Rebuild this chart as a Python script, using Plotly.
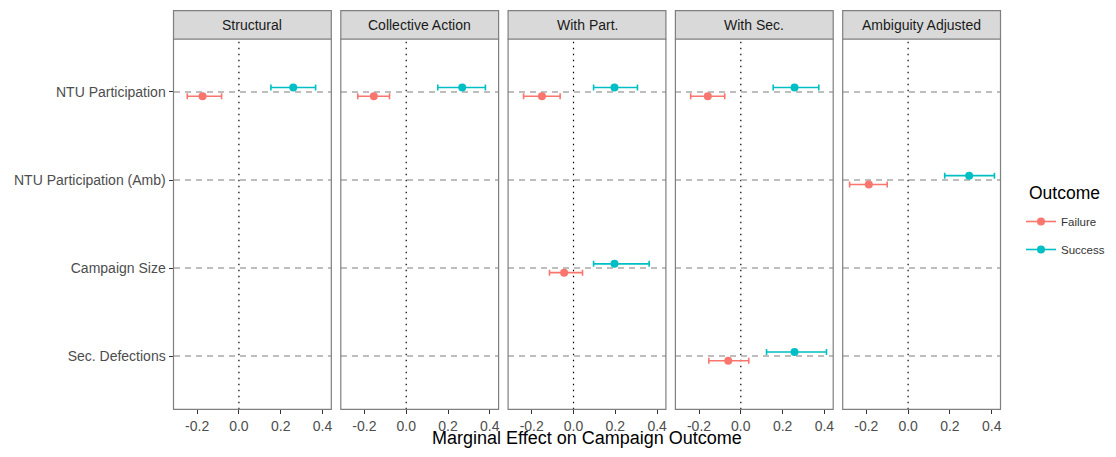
import plotly.graph_objects as go

# ---------------- data ----------------
categories = ["NTU Participation", "NTU Participation (Amb)", "Campaign Size", "Sec. Defections"]
panels = ["Structural", "Collective Action", "With Part.", "With Sec.", "Ambiguity Adjusted"]

row_panel = ["Structural", "Collective Action", "With Part.", "With Part.",
             "With Sec.", "With Sec.", "Ambiguity Adjusted"]
row_var = ["NTU Participation", "NTU Participation", "NTU Participation", "Campaign Size",
           "NTU Participation", "Sec. Defections", "NTU Participation (Amb)"]

fail_est = [-0.174, -0.155, -0.151, -0.045, -0.158, -0.060, -0.188]
fail_lo = [-0.247, -0.232, -0.239, -0.115, -0.240, -0.153, -0.280]
fail_hi = [-0.083, -0.080, -0.064, 0.043, -0.077, 0.038, -0.100]

succ_est = [0.260, 0.268, 0.196, 0.196, 0.257, 0.257, 0.292]
succ_lo = [0.153, 0.151, 0.096, 0.096, 0.155, 0.123, 0.175]
succ_hi = [0.367, 0.379, 0.306, 0.362, 0.373, 0.410, 0.413]

x_tickvals = [-0.2, 0.0, 0.2, 0.4]
x_ticktext = ["-0.2", "0.0", "0.2", "0.4"]

outcomes = ["Failure", "Success"]
colors = {"Failure": "#F8766D", "Success": "#00BFC4"}
dodge = {"Failure": 0.05, "Success": -0.05}

# ---------------- layout geometry (reference page pixels) ----------------
OFF = 8  # default page body margin
W, H = 1116 - 2 * OFF, 457 - 2 * OFF
FONT = "Liberation Sans, Arial, Helvetica, sans-serif"
panel_left = 173.5
panel_w = 157.8
gap = 9.5
plot_top, plot_bot = 39.0, 409.3
strip_top = 10.7
xr = [-0.313, 0.442]
yr = [3.6, -0.6]

def px(p):
    return (p - OFF) / W

def py(p):
    return (H - (p - OFF)) / H

fig = go.Figure()
layout = dict(
    width=W, height=H,
    margin=dict(l=0, r=0, t=0, b=0, autoexpand=False),
    paper_bgcolor="white", plot_bgcolor="white",
    font=dict(family=FONT, color="#4D4D4D"),
    shapes=[], annotations=[],
)

series = {
    "Failure": (fail_est, fail_lo, fail_hi),
    "Success": (succ_est, succ_lo, succ_hi),
}

for i, pname in enumerate(panels):
    k = "" if i == 0 else str(i + 1)
    left = panel_left + i * (panel_w + gap)
    right = left + panel_w
    layout["xaxis" + k] = dict(
        domain=[px(left), px(right)], anchor="y" + k, range=xr,
        tickvals=x_tickvals, ticktext=x_ticktext, ticks="outside", ticklen=4,
        tickcolor="#333333", tickwidth=1.2,
        tickfont=dict(size=14, color="#4D4D4D", family=FONT),
        showgrid=False, zeroline=False, showline=False,
    )
    layout["yaxis" + k] = dict(
        domain=[py(plot_bot), py(plot_top)], anchor="x" + k, range=yr,
        tickvals=list(range(len(categories))), ticktext=categories,
        showticklabels=(i == 0), ticks="outside" if i == 0 else "", ticklen=4,
        tickcolor="#333333", tickwidth=1.2,
        tickfont=dict(size=14, color="#4D4D4D", family=FONT),
        showgrid=True, gridcolor="#BEBEBE", gridwidth=1.6, griddash="6px,5px",
        zeroline=False, showline=False,
    )
    xref = "x" + k
    yref = "y" + k
    # zero reference line
    layout["shapes"].append(dict(
        type="line", xref=xref, yref=yref + " domain", x0=0, x1=0, y0=0, y1=1,
        line=dict(color="black", width=1.2, dash="1.5px,4.5px"), layer="below"))
    # panel border
    layout["shapes"].append(dict(
        type="rect", xref=xref + " domain", yref=yref + " domain", x0=0, x1=1, y0=0, y1=1,
        line=dict(color="#7F7F7F", width=1.2), layer="above"))
    # strip
    layout["shapes"].append(dict(
        type="rect", xref=xref + " domain", yref="paper", x0=0, x1=1,
        y0=py(plot_top), y1=py(strip_top),
        fillcolor="#D9D9D9", line=dict(color="#7F7F7F", width=1.2)))
    layout["annotations"].append(dict(
        text=pname, xref=xref + " domain", yref="paper", x=0.5,
        y=py((plot_top + strip_top) / 2), showarrow=False,
        xanchor="center", yanchor="middle",
        font=dict(size=14, color="#1A1A1A", family=FONT)))

    for oc in outcomes:
        est, lo, hi = series[oc]
        idx = [j for j, p in enumerate(row_panel) if p == pname]
        xs = [est[j] for j in idx]
        ys = [categories.index(row_var[j]) + dodge[oc] for j in idx]
        plus = [hi[j] - est[j] for j in idx]
        minus = [est[j] - lo[j] for j in idx]
        fig.add_trace(go.Scatter(
            x=xs, y=ys, mode="markers", xaxis=xref, yaxis=yref,
            marker=dict(color=colors[oc], size=8),
            error_x=dict(type="data", symmetric=False, array=plus, arrayminus=minus,
                         color=colors[oc], thickness=1.6, width=3),
            showlegend=False, hoverinfo="x+y", name=oc))

# legend entries
for oc in outcomes:
    fig.add_trace(go.Scatter(
        x=[None], y=[None], mode="lines+markers", name=oc, legendgroup=oc,
        line=dict(color=colors[oc], width=1.6), marker=dict(color=colors[oc], size=8),
        xaxis="x", yaxis="y"))

layout["legend"] = dict(
    x=px(1021), y=py(207), xanchor="left", yanchor="top",
    font=dict(size=11.5, color="#333333", family=FONT),
    tracegroupgap=9, itemwidth=30, bgcolor="rgba(0,0,0,0)",
)
layout["annotations"].append(dict(
    text="Outcome", xref="paper", yref="paper", x=px(1027), y=py(193),
    showarrow=False, xanchor="left", yanchor="middle",
    font=dict(size=17.5, color="black", family=FONT)))

layout["annotations"].append(dict(
    text="Marginal Effect on Campaign Outcome", xref="paper", yref="paper",
    x=px((panel_left + panel_left + 5 * panel_w + 4 * gap) / 2), y=py(438),
    showarrow=False, xanchor="center", yanchor="middle",
    font=dict(size=18, color="black", family=FONT)))

fig.update_layout(**layout)
fig.write_html("out.html")
